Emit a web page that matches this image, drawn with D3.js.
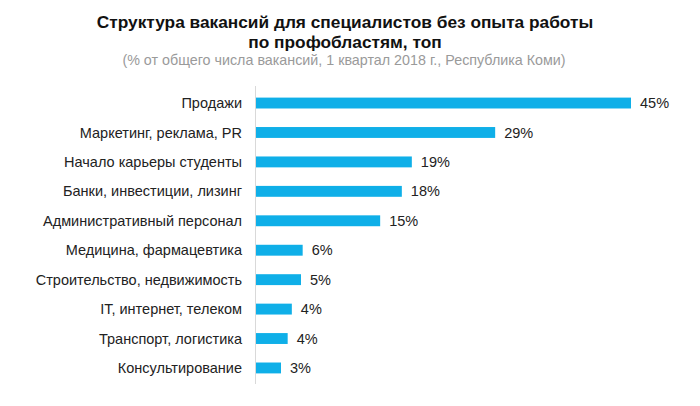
<!DOCTYPE html>
<html><head><meta charset="utf-8">
<script src="https://cdn.jsdelivr.net/npm/d3@7"></script>
<style>body{margin:0;background:#fff;}svg{display:block;font-family:"Liberation Sans",Arial,sans-serif;}</style>
</head><body>
<svg id="chart" width="700" height="406"></svg>
<script>
const categories = ["Продажи","Маркетинг, реклама, PR","Начало карьеры студенты","Банки, инвестиции, лизинг","Административный персонал","Медицина, фармацевтика","Строительство, недвижимость","IT, интернет, телеком","Транспорт, логистика","Консультирование"];
const values = [45, 28.7, 18.7, 17.5, 14.9, 5.6, 5.4, 4.3, 3.8, 3.0];
const valueLabels = ["45%","29%","19%","18%","15%","6%","5%","4%","4%","3%"];
const titleLines = ["Структура вакансий для специалистов без опыта работы","по профобластям, топ"];
const subtitle = "(% от общего числа вакансий, 1 квартал 2018 г., Республика Коми)";

const svg = d3.select("#chart");
const x0 = 256;
const x = d3.scaleLinear().domain([0, 45]).range([x0, 631]);
const y = d3.scaleBand().domain(categories).range([87, 384]).paddingInner(0.63).paddingOuter(0.36);

svg.append("g").selectAll("text").data(titleLines).join("text")
  .attr("x", 345).attr("y", (d,i)=>28 + i*19.5)
  .attr("text-anchor","middle").attr("font-weight","bold").attr("font-size",17.3).attr("fill","#111")
  .text(d=>d);
svg.append("text").attr("x",344).attr("y",64.5).attr("text-anchor","middle")
  .attr("font-size",14.3).attr("fill","#9a9a9a").text(subtitle);

svg.append("g").selectAll("rect").data(categories).join("rect")
  .attr("x", x(0)).attr("y", d=>y(d)).attr("height", y.bandwidth())
  .attr("width", (d,i)=>x(values[i]) - x(0)).attr("fill","#0fafe8");

svg.append("line").attr("x1",255.5).attr("x2",255.5).attr("y1",86).attr("y2",384)
  .attr("stroke","#d9d9d9").attr("stroke-width",1);

svg.append("g").selectAll("text").data(categories).join("text")
  .attr("x", 242).attr("y", d=>y(d)+y.bandwidth()/2).attr("dy","0.35em")
  .attr("text-anchor","end").attr("font-size",14.5).attr("fill","#222").text(d=>d);

svg.append("g").selectAll("text").data(categories).join("text")
  .attr("x", (d,i)=>x(values[i]) + 9).attr("y", d=>y(d)+y.bandwidth()/2).attr("dy","0.35em")
  .attr("font-size",14.5).attr("fill","#222").text((d,i)=>valueLabels[i]);
</script>
</body></html>
